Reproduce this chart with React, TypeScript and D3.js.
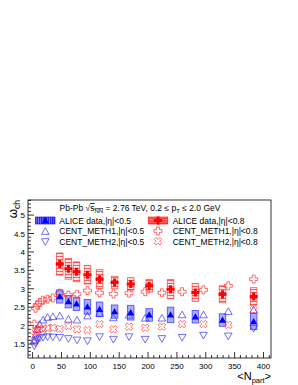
import React from 'react';
import * as d3 from 'd3';

// ALICE data points (centrality bins 0-60%)
const aliceNpart = [47, 62, 76, 95, 116, 142, 170, 202, 239, 282, 329, 383];
const alice08 = [3.67, 3.54, 3.46, 3.38, 3.26, 3.17, 3.13, 3.08, 2.99, 2.9, 2.85, 2.79];
const alice08Sys = [0.3, 0.28, 0.27, 0.25, 0.26, 0.17, 0.17, 0.17, 0.26, 0.24, 0.23, 0.24];
const alice08Stat = [0.05, 0.05, 0.04, 0.04, 0.04, 0.04, 0.04, 0.03, 0.03, 0.03, 0.03, 0.04];
const alice05 = [2.79, 2.65, 2.59, 2.51, 2.44, 2.38, 2.35, 2.29, 2.29, 2.24, 2.15, 2.11];
const alice05Sys = [0.18, 0.17, 0.18, 0.2, 0.2, 0.18, 0.2, 0.17, 0.21, 0.17, 0.17, 0.22];

// model points
const modelNpart = [3, 5, 8, 12, 18, 26, 35, 47, 62, 77, 95, 116, 140, 167, 195, 224, 259, 296, 339, 383];
const meth1Eta08 = [2.04, 2.47, 2.56, 2.63, 2.69, 2.72, 2.75, 2.88, 2.83, 2.85, 2.95, 2.89, 2.86, 2.88, 2.92, 2.89, 2.92, 2.97, 3.08, 3.26];
const meth2Eta08 = [1.56, 1.83, 1.88, 1.9, 1.91, 1.93, 1.94, 1.91, 1.99, 1.9, 1.88, 2.04, 1.9, 1.97, 1.94, 1.97, 2.04, 2.04, 2.02, 2.42];
const meth1Eta05 = [1.6, 1.74, 1.9, 2.03, 2.15, 2.22, 2.24, 2.26, 2.17, 2.15, 2.26, 2.33, 2.21, 2.28, 2.2, 2.2, 2.29, 2.29, 2.38, 2.42];
const meth2Eta05 = [1.45, 1.53, 1.62, 1.66, 1.68, 1.7, 1.69, 1.68, 1.65, 1.61, 1.59, 1.7, 1.63, 1.7, 1.63, 1.65, 1.68, 1.74, 1.72, 1.93];

const xTicks = [0, 50, 100, 150, 200, 250, 300, 350, 400];
const yTicks = [1.5, 2, 2.5, 3, 3.5, 4, 4.5, 5];

const W = 298;
const H = 385;
const frame = { left: 28, right: 271, top: 200, bottom: 358 };
const font = 'Liberation Sans, Arial, Helvetica, sans-serif';

const RED = '#ff0000';
const BLUE = '#0000ff';
const RED_OPEN = 'rgba(255,40,40,0.75)';
const BLUE_OPEN = 'rgba(40,40,255,0.75)';

function plusPoints(cx, cy, h, t) {
  const p = [
    [-t, -h], [t, -h], [t, -t], [h, -t], [h, t], [t, t],
    [t, h], [-t, h], [-t, t], [-h, t], [-h, -t], [-t, -t]
  ];
  return p.map(([a, b]) => `${cx + a},${cy + b}`).join(' ');
}

function xPoints(cx, cy, h, t) {
  const p = [
    [-t, -h], [t, -h], [t, -t], [h, -t], [h, t], [t, t],
    [t, h], [-t, h], [-t, t], [-h, t], [-h, -t], [-t, -t]
  ];
  const c = Math.SQRT1_2;
  return p.map(([a, b]) => `${cx + (a - b) * c},${cy + (a + b) * c}`).join(' ');
}

function triUp(cx, cy, s) {
  return `${cx - s},${cy + s * 0.75} ${cx + s},${cy + s * 0.75} ${cx},${cy - s * 1.0}`;
}

function triDown(cx, cy, s) {
  return `${cx - s},${cy - s * 0.75} ${cx + s},${cy - s * 0.75} ${cx},${cy + s * 1.0}`;
}

const OpenTriUp = ({ x, y }) => (
  <polygon points={triUp(x, y, 3.8)} fill="none" stroke={BLUE_OPEN} strokeWidth={0.9} />
);
const OpenTriDown = ({ x, y }) => (
  <polygon points={triDown(x, y, 3.8)} fill="none" stroke={BLUE_OPEN} strokeWidth={0.9} />
);
const OpenPlus = ({ x, y }) => (
  <polygon points={plusPoints(x, y, 4, 1.4)} fill="none" stroke={RED_OPEN} strokeWidth={0.9} />
);
const OpenX = ({ x, y }) => (
  <polygon points={xPoints(x, y, 4, 1.3)} fill="none" stroke={RED_OPEN} strokeWidth={0.9} />
);
const FullPlus = ({ x, y }) => (
  <polygon points={plusPoints(x, y, 4, 1.5)} fill={RED} />
);
const FullTri = ({ x, y }) => (
  <polygon points={triUp(x, y, 3.6)} fill={BLUE} />
);

export default function App() {
  const x = d3.scaleLinear().domain([-8, 413]).range([frame.left, frame.right]);
  const y = d3.scaleLinear().domain([1.12, 5.41]).range([frame.bottom, frame.top]);

  const xMinor = d3.range(-0, 411, 10).filter((v) => v % 50 !== 0);
  const yMinor = d3.range(1.2, 5.41, 0.1).map((v) => +v.toFixed(1)).filter((v) => Math.abs(v * 2 - Math.round(v * 2)) > 1e-6);

  const boxW = 6.5;

  return (
    <div style={{ position: 'absolute', left: 0, top: 0 }}>
      <svg width={W} height={H} style={{ display: 'block', background: '#fff' }}>
        <defs>
          <pattern id="hatchH" width="4" height="3" patternUnits="userSpaceOnUse">
            <rect width="4" height="3" fill="rgba(255,0,0,0.08)" />
            <line x1="0" y1="1.5" x2="4" y2="1.5" stroke="rgba(255,0,0,0.6)" strokeWidth="1" />
          </pattern>
          <pattern id="hatchV" width="2" height="4" patternUnits="userSpaceOnUse">
            <rect width="2" height="4" fill="rgba(0,0,255,0.22)" />
            <line x1="1" y1="0" x2="1" y2="4" stroke="rgba(0,0,255,0.35)" strokeWidth="0.8" />
          </pattern>
          <pattern id="legH" width="4" height="2.4" patternUnits="userSpaceOnUse">
            <rect width="4" height="2.4" fill="rgba(255,0,0,0.75)" />
            <line x1="0" y1="1.2" x2="4" y2="1.2" stroke="rgba(255,255,255,0.6)" strokeWidth="0.6" />
          </pattern>
          <pattern id="legV" width="2.2" height="4" patternUnits="userSpaceOnUse">
            <rect width="2.2" height="4" fill="rgba(0,0,255,0.85)" />
            <line x1="1.1" y1="0" x2="1.1" y2="4" stroke="rgba(255,255,255,0.55)" strokeWidth="0.6" />
          </pattern>
          <clipPath id="frameClip">
            <rect x={frame.left} y={frame.top} width={frame.right - frame.left} height={frame.bottom - frame.top} />
          </clipPath>
        </defs>

        {/* frame */}
        <rect x={frame.left} y={frame.top} width={frame.right - frame.left} height={frame.bottom - frame.top}
          fill="none" stroke="#000" strokeWidth={0.8} />

        {/* x axis ticks */}
        {xTicks.map((t) => (
          <g key={'xt' + t}>
            <line x1={x(t)} x2={x(t)} y1={frame.bottom} y2={frame.bottom - 6} stroke="#000" strokeWidth={0.8} />
            <text x={x(t)} y={frame.bottom + 11} fontSize={8} fontFamily={font} textAnchor="middle">{t}</text>
          </g>
        ))}
        {xMinor.map((t) => (
          <line key={'xm' + t} x1={x(t)} x2={x(t)} y1={frame.bottom} y2={frame.bottom - 3} stroke="#000" strokeWidth={0.8} />
        ))}

        {/* y axis ticks */}
        {yTicks.map((t) => (
          <g key={'yt' + t}>
            <line x1={frame.left} x2={frame.left + 6} y1={y(t)} y2={y(t)} stroke="#000" strokeWidth={0.8} />
            <text x={frame.left - 3} y={y(t) + 3} fontSize={8} fontFamily={font} textAnchor="end">{t}</text>
          </g>
        ))}
        {yMinor.map((t) => (
          <line key={'ym' + t} x1={frame.left} x2={frame.left + 3} y1={y(t)} y2={y(t)} stroke="#000" strokeWidth={0.8} />
        ))}

        {/* axis titles */}
        <text transform={`translate(${17},${frame.top}) rotate(-90)`} fontSize={12} fontFamily={font} textAnchor="end">
          ω<tspan fontSize={8.5} dy={3}>ch</tspan>
        </text>
        <text x={frame.right} y={380} fontSize={11} fontFamily={font} textAnchor="end">
          &lt;N<tspan fontSize={7.5} dy={3}>part</tspan><tspan dy={-3}>&gt;</tspan>
        </text>

        <g clipPath="url(#frameClip)">
          {/* systematic boxes */}
          {aliceNpart.map((n, i) => (
            <rect key={'b08' + i} x={x(n) - boxW / 2} width={boxW}
              y={y(alice08[i] + alice08Sys[i])} height={y(alice08[i] - alice08Sys[i]) - y(alice08[i] + alice08Sys[i])}
              fill="url(#hatchH)" stroke="rgba(255,0,0,0.6)" strokeWidth={0.9} />
          ))}
          {aliceNpart.map((n, i) => (
            <rect key={'b05' + i} x={x(n) - boxW / 2} width={boxW}
              y={y(alice05[i] + alice05Sys[i])} height={y(alice05[i] - alice05Sys[i]) - y(alice05[i] + alice05Sys[i])}
              fill="url(#hatchV)" stroke="rgba(0,0,255,0.6)" strokeWidth={0.9} />
          ))}

          {/* model points */}
          {modelNpart.map((n, i) => <OpenTriUp key={'m1a' + i} x={x(n)} y={y(meth1Eta05[i])} />)}
          {modelNpart.map((n, i) => <OpenTriDown key={'m2a' + i} x={x(n)} y={y(meth2Eta05[i])} />)}
          {modelNpart.map((n, i) => <OpenPlus key={'m1b' + i} x={x(n)} y={y(meth1Eta08[i])} />)}
          {modelNpart.map((n, i) => <OpenX key={'m2b' + i} x={x(n)} y={y(meth2Eta08[i])} />)}

          {/* data points */}
          {aliceNpart.map((n, i) => (
            <g key={'d08' + i}>
              <line x1={x(n)} x2={x(n)} y1={y(alice08[i] + alice08Stat[i])} y2={y(alice08[i] - alice08Stat[i])} stroke={RED} strokeWidth={1} />
              <FullPlus x={x(n)} y={y(alice08[i])} />
            </g>
          ))}
          {aliceNpart.map((n, i) => (
            <FullTri key={'d05' + i} x={x(n)} y={y(alice05[i])} />
          ))}
        </g>

        {/* legend */}
        <text x={140} y={211} fontSize={8.5} fontFamily={font} textAnchor="middle">
          Pb-Pb √<tspan textDecoration="overline">s<tspan fontSize={6} dy={2}>NN</tspan></tspan>
          <tspan dy={-2}> = 2.76 TeV, 0.2 ≤ p</tspan><tspan fontSize={6} dy={2}>T</tspan>
          <tspan dy={-2}> ≤ 2.0 GeV</tspan>
        </text>

        <rect x={35.5} y={217} width={19.5} height={7} fill="url(#legV)" stroke={BLUE} strokeWidth={0.6} />
        <FullTri x={45.3} y={220.6} />
        <text x={59.3} y={223.8} fontSize={8.5} fontFamily={font}>ALICE data,|η|&lt;0.5</text>
        <OpenTriUp x={45.3} y={231.5} />
        <text x={59.3} y={234.3} fontSize={8.5} fontFamily={font}>CENT_METH1,|η|&lt;0.5</text>
        <OpenTriDown x={45.3} y={241.5} />
        <text x={59.3} y={244.5} fontSize={8.5} fontFamily={font}>CENT_METH2,|η|&lt;0.5</text>

        <rect x={148.3} y={217} width={19.5} height={7} fill="url(#legH)" stroke={RED} strokeWidth={0.6} />
        <FullPlus x={158} y={220.6} />
        <text x={172.7} y={223.8} fontSize={8.5} fontFamily={font}>ALICE data,|η|&lt;0.8</text>
        <OpenPlus x={158} y={231} />
        <text x={172.7} y={234.3} fontSize={8.5} fontFamily={font}>CENT_METH1,|η|&lt;0.8</text>
        <OpenX x={158} y={241.3} />
        <text x={172.7} y={244.5} fontSize={8.5} fontFamily={font}>CENT_METH2,|η|&lt;0.8</text>
      </svg>
    </div>
  );
}
